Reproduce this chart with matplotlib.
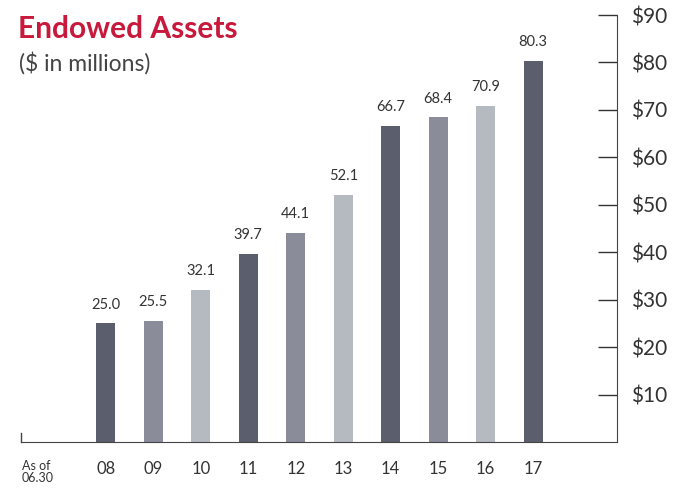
import matplotlib.pyplot as plt

# data
years = ['08', '09', '10', '11', '12', '13', '14', '15', '16', '17']
assets = [25.0, 25.5, 32.1, 39.7, 44.1, 52.1, 66.7, 68.4, 70.9, 80.3]
bar_colors = ['#5b5e6c', '#8a8c99', '#b5b9c0'] * 3 + ['#5b5e6c']
y_ticks = [10, 20, 30, 40, 50, 60, 70, 80, 90]

plt.rcParams['font.family'] = ['Lato', 'DejaVu Sans']

fig = plt.figure(figsize=(6.83, 4.92), dpi=100)
ax = fig.add_axes([21 / 683, 50 / 492, (617 - 21) / 683, (442 - 15) / 492])

x = list(range(len(years)))
ax.bar(x, assets, width=0.4, color=bar_colors)

for xi, v in zip(x, assets):
    ax.text(xi, v + 2.5, f'{v:.1f}', ha='center', va='bottom', fontsize=10.5, color='#333333')

ax.set_xlim(-1.79, 10.77)
ax.set_ylim(0, 90)

# axis on the right, ticks pointing inward
ax.yaxis.tick_right()
ax.set_yticks(y_ticks)
ax.set_yticklabels([f'${t}' for t in y_ticks], fontsize=15, color='#333333')
ax.tick_params(axis='y', direction='in', length=14, width=1, color='#333333', pad=10)
ax.set_xticks(x)
ax.set_xticklabels(years, fontsize=12, color='#333333')
ax.tick_params(axis='x', length=0, pad=14)

for s in ['top', 'left']:
    ax.spines[s].set_visible(False)
ax.spines['right'].set_color('#444444')
ax.spines['bottom'].set_color('#444444')
ax.plot([-1.79, -1.79], [0, 2], color='#444444', lw=1, clip_on=False)

fig.text(22 / 683, 1 - 472 / 492, 'As of\n06.30', fontsize=9, color='#333333',
         va='center', ha='left', linespacing=1.05)

fig.text(18 / 683, 1 - 29 / 492, 'Endowed Assets', fontsize=21.5, fontweight='bold',
         color='#c8193c', va='center', ha='left')
fig.text(19 / 683, 1 - 63 / 492, '($ in millions)', fontsize=16.5, fontweight='normal',
         color='#444444', va='center', ha='left')

fig.savefig('out.png', dpi=100)
